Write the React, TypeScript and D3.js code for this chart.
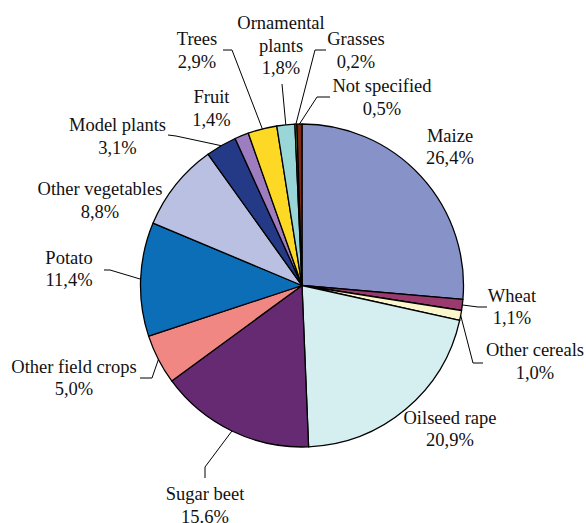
import React from "react";
import * as d3 from "d3";

// Share of field trials by crop group (percent), clockwise from 12 o'clock
const categories = [
  "Maize",
  "Wheat",
  "Other cereals",
  "Oilseed rape",
  "Sugar beet",
  "Other field crops",
  "Potato",
  "Other vegetables",
  "Model plants",
  "Fruit",
  "Trees",
  "Ornamental plants",
  "Grasses",
  "Not specified",
];
const values = [26.4, 1.1, 1.0, 20.9, 15.6, 5.0, 11.4, 8.8, 3.1, 1.4, 2.9, 1.8, 0.2, 0.5];
const valueLabels = [
  "26,4%", "1,1%", "1,0%", "20,9%", "15.6%", "5,0%", "11,4%",
  "8,8%", "3,1%", "1,4%", "2,9%", "1,8%", "0,2%", "0,5%",
];
const nameLines = [
  ["Maize"], ["Wheat"], ["Other cereals"], ["Oilseed rape"], ["Sugar beet"],
  ["Other field crops"], ["Potato"], ["Other vegetables"], ["Model plants"],
  ["Fruit"], ["Trees"], ["Ornamental", "plants"], ["Grasses"], ["Not specified"],
];
const colors = [
  "#8792c8", "#9b3a6e", "#fbf6cc", "#d5eef0", "#662a72", "#f08783", "#0d6eb8",
  "#b9c0e1", "#253a87", "#9d7cbf", "#fdd925", "#99d6d8", "#5f9e4a", "#7f2a14",
];

// Label placement: text centre x, first baseline y, and leader-line points
// (drawn from the slice edge through the listed points)
type LabelPos = { x: number; y: number; leader?: [number, number][] };
const labelPos: LabelPos[] = [
  { x: 450, y: 141.5 },
  { x: 512, y: 301.5, leader: [[478, 307], [487, 307]] },
  { x: 535, y: 356, leader: [[473, 363], [483, 363]] },
  { x: 450, y: 423.5 },
  { x: 205, y: 500, leader: [[205, 467], [205, 478]] },
  { x: 74, y: 372.5, leader: [[152, 378], [140, 378]] },
  { x: 69, y: 263.5, leader: [[110, 270], [104, 270]] },
  { x: 100, y: 195 },
  { x: 117.5, y: 131, leader: [[176, 136], [168, 135]] },
  { x: 211.5, y: 103 },
  { x: 197, y: 45, leader: [[232, 50], [223, 50]] },
  { x: 281, y: 29, leader: [[282, 84]] },
  { x: 356, y: 45, leader: [[315, 50], [326, 50]] },
  { x: 382, y: 92, leader: [[317, 97], [330, 97]] },
];

const WIDTH = 586;
const HEIGHT = 523;
const CX = 302;
const CY = 285.5;
const R = 161.5;
const LINE_H = 22.5;

export default function App() {
  const pie = d3
    .pie<number>()
    .sort(null)
    .value((d) => d)
    .startAngle(0)
    .endAngle(2 * Math.PI);
  const arcs = pie(values);
  const arc = d3.arc<d3.PieArcDatum<number>>().innerRadius(0).outerRadius(R);
  const line = d3.line<[number, number]>();

  return (
    <svg
      width={WIDTH}
      height={HEIGHT}
      style={{
        position: "absolute",
        left: 0,
        top: 0,
        background: "#fff",
        fontFamily: "Liberation Serif, Tinos, Times New Roman, DejaVu Serif, serif",
        fontSize: "18.5px",
      }}
    >
      <g transform={`translate(${CX},${CY})`}>
        {arcs.map((a, i) => (
          <path
            key={categories[i]}
            d={arc(a) || ""}
            fill={colors[i]}
            stroke="#000"
            strokeWidth={1.3}
            strokeLinejoin="round"
          />
        ))}
      </g>
      {arcs.map((a, i) => {
        const lp = labelPos[i];
        if (!lp.leader) return null;
        const mid = (a.startAngle + a.endAngle) / 2;
        const anchor: [number, number] = [CX + R * Math.sin(mid), CY - R * Math.cos(mid)];
        return (
          <path
            key={"l" + i}
            d={line([anchor, ...lp.leader]) || ""}
            fill="none"
            stroke="#000"
            strokeWidth={1}
          />
        );
      })}
      {categories.map((c, i) => {
        const lp = labelPos[i];
        const lines = [...nameLines[i], valueLabels[i]];
        return (
          <text key={"t" + c} textAnchor="middle" fill="#111">
            {lines.map((t, k) => (
              <tspan key={k} x={lp.x} y={lp.y + k * LINE_H}>
                {t}
              </tspan>
            ))}
          </text>
        );
      })}
    </svg>
  );
}
